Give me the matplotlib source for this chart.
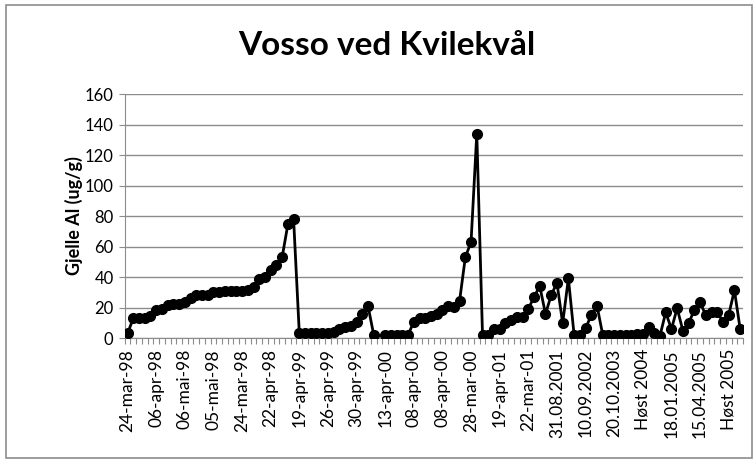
import numpy as np
import matplotlib
matplotlib.use("Agg")
from matplotlib import pyplot as plt
from matplotlib.patches import Rectangle

# data (Gjelle Al, ug/g)
values = [3, 13, 13, 13, 14.5, 18.5, 19, 21.5, 22, 22,
          23.5, 26, 28, 28, 28, 30, 30, 30.5, 31, 31,
          31, 31.5, 33.5, 39, 40, 44.5, 48, 53, 74.5, 78,
          3, 3, 3, 3, 3, 3.5, 4, 5.8, 7, 7.6,
          10.7, 15.7, 21, 2, np.nan, 2, 2, 2, 2, 2,
          10.7, 12.8, 12.8, 14.7, 15.5, 18.6, 20.7, 20.5, 24.5, 53,
          63, 134, 2, 2, 5.7, 6.2, 9.8, 11.8, 13.8, 14,
          19, 27, 34, 15.8, 28, 36.3, 9.6, 39.1, 2, 2,
          6.3, 15, 21.2, 2, 2, 2, 2, 2, 2, 2.6,
          2.5, 7, 3, 1.5, 16.8, 5.9, 19.5, 4.8, 9.6, 18.4,
          23.3, 15.1, 16.8, 16.8, 10.7, 15.1, 31.3, 6]

# every 5th category label as shown on the axis
tick_labels = ['24-mar-98', '06-apr-98', '06-mai-98', '05-mai-98', '24-mar-98',
               '22-apr-98', '19-apr-99', '26-apr-99', '30-apr-99', '13-apr-00',
               '08-apr-00', '08-apr-00', '28-mar-00', '19-apr-01', '22-mar-01',
               '31.08.2001', '10.09.2002', '20.10.2003', 'Høst 2004', '18.01.2005',
               '15.04.2005', 'Høst 2005']
label_step = 5

plt.rcParams['font.family'] = ['Lato', 'DejaVu Sans']

n = len(values)
x = np.arange(n)

fig = plt.figure(figsize=(7.54, 4.59), dpi=100)
ax = fig.add_axes([0.1654, 0.2636, 0.8200, 0.5316])

ax.plot(x, values, color='black', lw=2, marker='o', ms=7, zorder=3)

ax.set_xlim(-0.5, n - 0.5)
ax.set_ylim(0, 160)
ax.set_yticks(range(0, 161, 20))
ax.grid(axis='y', color='#8c8c8c', lw=1)
ax.set_axisbelow(True)

# category labels every 5th point, small tick marks at every category boundary
ax.set_xticks(x[::label_step])
ax.set_xticklabels(tick_labels, rotation=90, fontsize=12.5)
ax.set_xticks(np.arange(-0.5, n, 1), minor=True)
ax.tick_params(axis='x', which='major', length=0, pad=8)
ax.tick_params(axis='x', which='minor', length=4, color='#8c8c8c', width=0.8)
ax.tick_params(axis='y', length=4, color='#8c8c8c', labelsize=12, pad=4)

for s in ['top', 'right']:
    ax.spines[s].set_visible(False)
for s in ['left', 'bottom']:
    ax.spines[s].set_color('#8c8c8c')

ax.set_ylabel('Gjelle Al (ug/g)', fontsize=13, fontweight='bold', va='center')
ax.yaxis.set_label_coords(-0.082, 0.5)
fig.text(0.513, 0.9, 'Vosso ved Kvilekvål', ha='center', va='center',
         fontsize=24, fontweight='bold')

# chart border
fig.patches.append(Rectangle((0.008, 0.002), 0.99, 0.987, transform=fig.transFigure,
                             fill=False, edgecolor='#8c8c8c', lw=1.2))

fig.savefig('out.png', dpi=100)
